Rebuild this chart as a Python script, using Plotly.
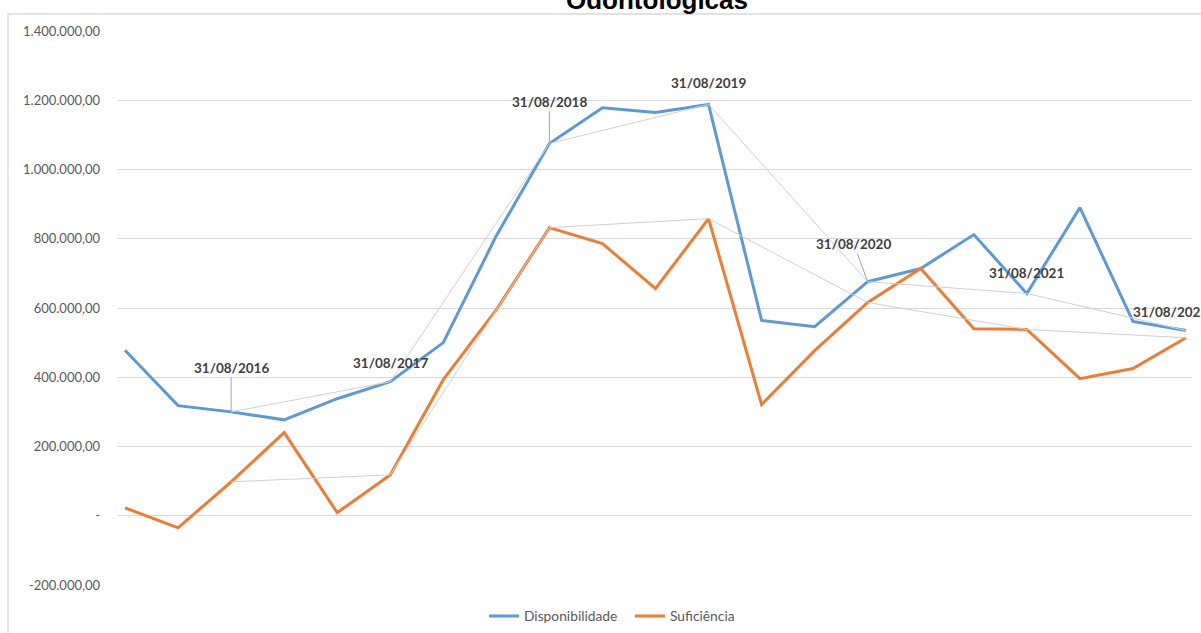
import plotly.graph_objects as go

# ---------------- data ----------------
categories = [
    "31/12/2015", "30/04/2016", "31/08/2016", "31/12/2016", "30/04/2017", "31/08/2017",
    "31/12/2017", "30/04/2018", "31/08/2018", "31/12/2018", "30/04/2019", "31/08/2019",
    "31/12/2019", "30/04/2020", "31/08/2020", "31/12/2020", "30/04/2021", "31/08/2021",
    "31/12/2021", "30/04/2022", "31/08/2022",
]
disponibilidade = [
    478000, 318000, 300000, 277000, 338000, 387000,
    500000, 809000, 1075000, 1178000, 1165000, 1188000,
    564000, 546000, 676000, 714000, 812000, 642000,
    890000, 561000, 535000,
]
suficiencia = [
    23000, -35000, 98000, 240000, 9000, 118000,
    393000, 595000, 832000, 786000, 656000, 858000,
    321000, 477000, 616000, 714000, 540000, 538000,
    396000, 425000, 514000,
]
annual_idx = [2, 5, 8, 11, 14, 17, 20]
y_tickvals = [-200000, 0, 200000, 400000, 600000, 800000, 1000000, 1200000, 1400000]
y_ticktext = ["-200.000,00", "-", "200.000,00", "400.000,00", "600.000,00",
              "800.000,00", "1.000.000,00", "1.200.000,00", "1.400.000,00"]
title_text = "Odontológicas"

# ---------------- style ----------------
BLUE = "#5B9BD5"
ORANGE = "#ED7D31"
GRID = "#D9D9D9"
CONNECT = "#D0D0D0"
TICK_COL = "#595959"
LABEL_COL = "#404040"
BASE_FONT = "Lato"

# label placement per annual point
label_style = {
    2: dict(showarrow=True, ax=0, ay=-44),
    5: dict(showarrow=False, up=19),
    8: dict(showarrow=True, ax=0, ay=-42),
    11: dict(showarrow=False, up=21),
    14: dict(showarrow=True, ax=-14, ay=-38),
    17: dict(showarrow=False, up=20),
    20: dict(showarrow=False, up=19, xshift=-16),
}

fig = go.Figure()

fig.add_trace(go.Scatter(
    x=categories, y=disponibilidade, mode="lines", name="Disponibilidade",
    line=dict(color=BLUE, width=3)))
fig.add_trace(go.Scatter(
    x=categories, y=suficiencia, mode="lines", name="Suficiência",
    line=dict(color=ORANGE, width=3)))

ann_x = [categories[i] for i in annual_idx]
fig.add_trace(go.Scatter(
    x=ann_x, y=[disponibilidade[i] for i in annual_idx], mode="lines",
    line=dict(color=CONNECT, width=1), showlegend=False, hoverinfo="skip"))
fig.add_trace(go.Scatter(
    x=ann_x, y=[suficiencia[i] for i in annual_idx], mode="lines",
    line=dict(color=CONNECT, width=1), showlegend=False, hoverinfo="skip"))

annotations = []
for i in annual_idx:
    st = label_style[i]
    a = dict(
        x=categories[i], y=disponibilidade[i], xref="x", yref="y",
        text=categories[i],
        font=dict(family=BASE_FONT, size=13.5, color=LABEL_COL, weight="bold"),
        showarrow=st["showarrow"],
    )
    if st["showarrow"]:
        a.update(ax=st["ax"], ay=st["ay"], axref="pixel", ayref="pixel",
                 arrowhead=0, arrowwidth=1, arrowcolor="#A6A6A6", standoff=1)
    else:
        a.update(yshift=st["up"], xshift=st.get("xshift", 0))
    annotations.append(a)

# title (cropped at top in reference)
annotations.append(dict(
    x=0.5019, y=1, xref="paper", yref="paper", xanchor="center", yanchor="bottom",
    yshift=14, showarrow=False, text="<b>" + title_text + "</b>",
    font=dict(family="Liberation Sans", size=26, color="#000000")))

shapes = [dict(
    type="rect", xref="paper", yref="paper",
    x0=-0.1024, x1=1.2, y0=-0.3, y1=1.0307,
    line=dict(color=GRID, width=1.3), fillcolor="rgba(0,0,0,0)", layer="below")]

fig.update_layout(
    width=1201, height=633,
    margin=dict(l=118, r=9, t=31, b=48, autoexpand=False),
    paper_bgcolor="white", plot_bgcolor="white",
    font=dict(family=BASE_FONT, color=TICK_COL),
    showlegend=True,
    legend=dict(orientation="h", x=0.4767, xanchor="center", y=-0.056, yanchor="middle",
                font=dict(family=BASE_FONT, size=13.8, color=TICK_COL), itemwidth=30,
                entrywidth=101, entrywidthmode="pixels",
                bgcolor="rgba(0,0,0,0)"),
    annotations=annotations,
    shapes=shapes,
    xaxis=dict(type="category", categoryorder="array", categoryarray=categories,
               autorange=False, range=[-0.132, 20.113], showticklabels=False, showgrid=False,
               zeroline=False, showline=False, ticks="", automargin=False),
    yaxis=dict(range=[-200000, 1400000], autorange=False, tickvals=y_tickvals, ticktext=y_ticktext,
               showgrid=True, gridcolor=GRID, gridwidth=1, zeroline=True, zerolinecolor=GRID,
               zerolinewidth=1, showline=False, ticks="", ticklabelstandoff=17, automargin=False,
               tickfont=dict(family=BASE_FONT, size=13, color=TICK_COL)),
)

fig.write_html("out.html", config={"displayModeBar": False},
               post_script="document.body.style.margin='0';document.body.style.overflow='hidden';")
